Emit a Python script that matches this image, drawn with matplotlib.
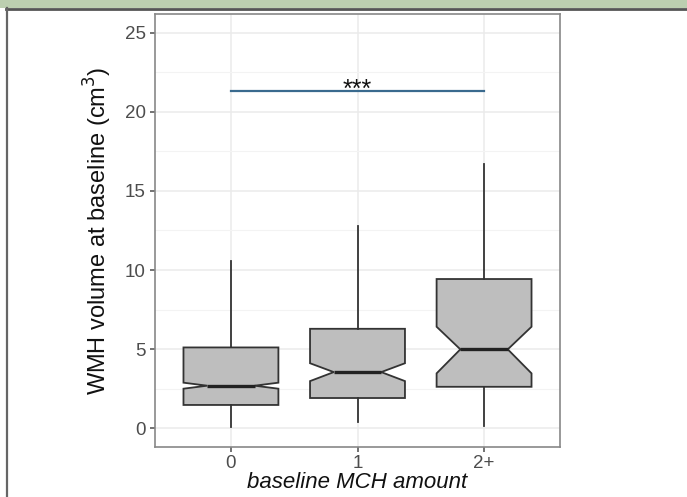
import matplotlib
matplotlib.use("Agg")
import matplotlib.pyplot as plt
from matplotlib.patches import Rectangle
from matplotlib.lines import Line2D

plt.rcParams['font.family'] = ['Liberation Sans', 'DejaVu Sans']

categories = ["0", "1", "2+"]
whislo = [0.08, 0.38, 0.12]
q1 = [1.46, 1.90, 2.61]
med = [2.68, 3.54, 4.98]
q3 = [5.10, 6.28, 9.43]
whishi = [10.59, 12.8, 16.69]
cilo = [2.49, 2.97, 3.46]
cihi = [2.87, 4.10, 6.41]
sig_y = 21.33
sig_label = "***"
yticks = [0, 5, 10, 15, 20, 25]

fig = plt.figure(figsize=(6.87, 4.97), dpi=100)
W, H = 687, 497
ax = fig.add_axes([155 / W, 1 - 447 / H, (560 - 155) / W, (447 - 14) / H])

stats = []
for i in range(len(categories)):
    stats.append(dict(med=med[i], q1=q1[i], q3=q3[i], whislo=whislo[i],
                      whishi=whishi[i], cilo=cilo[i], cihi=cihi[i], fliers=[]))
pos = list(range(len(categories)))
ax.bxp(stats, positions=pos, widths=0.75, shownotches=True, showcaps=False,
       showfliers=False, patch_artist=True,
       boxprops=dict(facecolor="#BEBEBE", edgecolor="#333333", linewidth=1.3),
       whiskerprops=dict(color="#333333", linewidth=1.3),
       medianprops=dict(color="#222222", linewidth=2.4), zorder=3)

ax.set_xlim(-0.6, 2.6)
ax.set_ylim(-1.2, 26.2)
ax.set_yticks(yticks)
ax.set_yticks([2.5, 7.5, 12.5, 17.5, 22.5], minor=True)
ax.set_xticks(pos)
ax.set_xticklabels(categories)
ax.grid(True, which="major", color="#EBEBEB", linewidth=1.1, zorder=0)
ax.grid(True, which="minor", axis="y", color="#F3F3F3", linewidth=0.8, zorder=0)
ax.set_axisbelow(True)
for s in ax.spines.values():
    s.set_color("#888888")
    s.set_linewidth(1.2)
ax.tick_params(axis="both", which="major", labelsize=13.5, colors="#4D4D4D",
               length=3.5, width=1.1, pad=3)
ax.tick_params(axis="x", which="major", pad=2)
ax.tick_params(axis="both", which="minor", length=0)

ax.plot([pos[0], pos[2]], [sig_y, sig_y], color="#3A6A8E", linewidth=1.6, zorder=4)
ax.text((pos[0] + pos[2]) / 2, sig_y - 0.4, sig_label, ha="center", va="baseline",
        fontsize=18, color="#111111", zorder=5)

ax.set_ylabel("WMH volume at baseline (cm$^3$)", fontsize=17, color="#111111", labelpad=8)
ax.set_xlabel("baseline MCH amount", fontsize=16, style="italic", color="#111111", labelpad=0)

# page decoration
fig.patches.append(Rectangle((0, 1 - 8 / H), 1, 8 / H, transform=fig.transFigure,
                             facecolor="#BCCFB0", edgecolor="none"))
fig.lines.append(Line2D([6 / W, 1], [1 - 8.5 / H, 1 - 8.5 / H], transform=fig.transFigure,
                        color="#555555", linewidth=2))
fig.lines.append(Line2D([6.5 / W, 6.5 / W], [0, 1 - 8 / H], transform=fig.transFigure,
                        color="#666666", linewidth=1.6))

fig.savefig("out.png", dpi=100)
